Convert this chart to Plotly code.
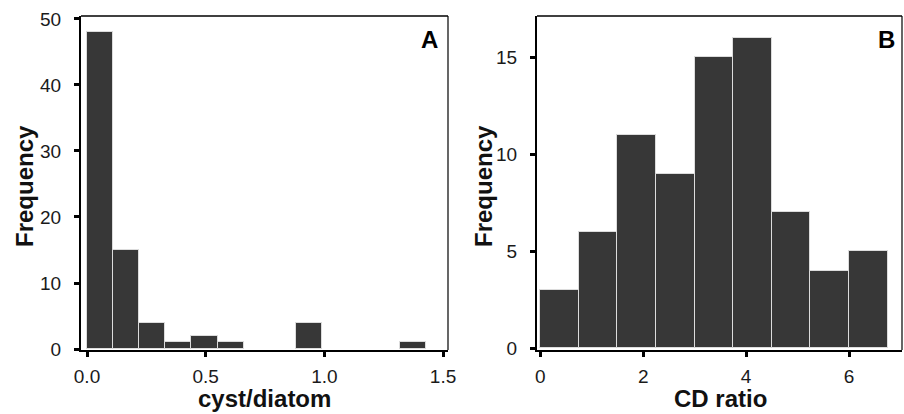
import plotly.graph_objects as go

# Panel A: cyst/diatom ratio histogram (equal-width bins from 0)
cyst_bin_start = 0.0
cyst_bin_width = 0.11
cyst_counts = [48, 15, 4, 1, 2, 1, 0, 0, 4, 0, 0, 0, 1]
cyst_ticks = [0.0, 0.5, 1.0, 1.5]
cyst_tick_text = ["0.0", "0.5", "1.0", "1.5"]
cyst_yticks = [0, 10, 20, 30, 40, 50]

# Panel B: CD ratio histogram
cd_bin_start = 0.0
cd_bin_width = 0.75
cd_counts = [3, 6, 11, 9, 15, 16, 7, 4, 5]
cd_ticks = [0, 2, 4, 6]
cd_yticks = [0, 5, 10, 15]

BAR_FILL = "#373737"
BAR_EDGE = "#dcdcdc"
FONT = "Liberation Sans, Arial, sans-serif"


def bin_bars(start, width, counts):
    xs, ys = [], []
    for i, c in enumerate(counts):
        if c > 0:
            xs.append(start + (i + 0.5) * width)
            ys.append(c)
    return xs, ys


ax, ay = bin_bars(cyst_bin_start, cyst_bin_width, cyst_counts)
bx, by = bin_bars(cd_bin_start, cd_bin_width, cd_counts)

fig = go.Figure()
fig.add_trace(go.Bar(x=ax, y=ay, width=cyst_bin_width, xaxis="x", yaxis="y",
                     marker=dict(color=BAR_FILL, line=dict(color=BAR_EDGE, width=1)),
                     showlegend=False, hoverinfo="x+y"))
fig.add_trace(go.Bar(x=bx, y=by, width=cd_bin_width, xaxis="x2", yaxis="y2",
                     marker=dict(color=BAR_FILL, line=dict(color=BAR_EDGE, width=1)),
                     showlegend=False, hoverinfo="x+y"))

W, H = 904, 414
ydom = [1 - 350 / H, 1 - 16 / H]
tick_font = dict(family=FONT, size=19, color="#1a1a1a")
title_font = dict(family=FONT, size=24, color="#111111")

common_x = dict(showline=True, linecolor="black", linewidth=2, ticks="outside",
                ticklen=5, tickwidth=2.5, tickcolor="black", showgrid=False,
                zeroline=False, tickfont=tick_font, ticklabelstandoff=3,
                automargin=False)
common_y = dict(showline=True, linecolor="black", linewidth=2, ticks="outside",
                ticklen=5, tickwidth=2.5, tickcolor="black", showgrid=False,
                zeroline=False, tickfont=tick_font, ticklabelstandoff=9,
                automargin=False)

fig.update_layout(
    width=W, height=H,
    margin=dict(l=0, r=0, t=0, b=0),
    paper_bgcolor="white", plot_bgcolor="white",
    bargap=0,
    xaxis=dict(domain=[81 / W, 448 / W], range=[-0.0253, 1.521], anchor="y",
               tickvals=cyst_ticks, ticktext=cyst_tick_text, **common_x),
    yaxis=dict(domain=ydom, range=[-0.15, 50.45], anchor="x",
               tickvals=cyst_yticks, **common_y),
    xaxis2=dict(domain=[537 / W, 902 / W], range=[-0.064, 7.03], anchor="y2",
                tickvals=cd_ticks, **common_x),
    yaxis2=dict(domain=ydom, range=[-0.09, 17.13], anchor="x2",
                tickvals=cd_yticks, **common_y),
)

# Top and right frame edges
for xr, yr in (("x domain", "y domain"), ("x2 domain", "y2 domain")):
    fig.add_shape(type="line", xref=xr, yref=yr, x0=0, x1=1, y0=1, y1=1,
                  line=dict(color="black", width=1.5))
    fig.add_shape(type="line", xref=xr, yref=yr, x0=1, x1=1, y0=0, y1=1,
                  line=dict(color="black", width=1.2))

# Axis titles, placed in paper pixels
def px_x(p):
    return p / W


def px_y(p):
    return 1 - p / H


for cx, label in ((264, "cyst/diatom"), (720, "CD ratio")):
    fig.add_annotation(xref="paper", yref="paper", x=px_x(cx), y=px_y(398),
                       text=f"<b>{label}</b>", showarrow=False,
                       xanchor="center", yanchor="middle", font=title_font)
for cx in (24, 483):
    fig.add_annotation(xref="paper", yref="paper", x=px_x(cx), y=px_y(186),
                       text="<b>Frequency</b>", showarrow=False, textangle=-90,
                       xanchor="center", yanchor="middle", font=title_font)

# Panel letters
for xr, yr, letter, xpos in (("x domain", "y domain", "A", 0.977),
                             ("x2 domain", "y2 domain", "B", 0.985)):
    fig.add_annotation(xref=xr, yref=yr, x=xpos, y=0.93, text=f"<b>{letter}</b>",
                       showarrow=False, xanchor="right", yanchor="middle",
                       font=dict(family=FONT, size=24, color="black"))

fig.write_html("out.html")
